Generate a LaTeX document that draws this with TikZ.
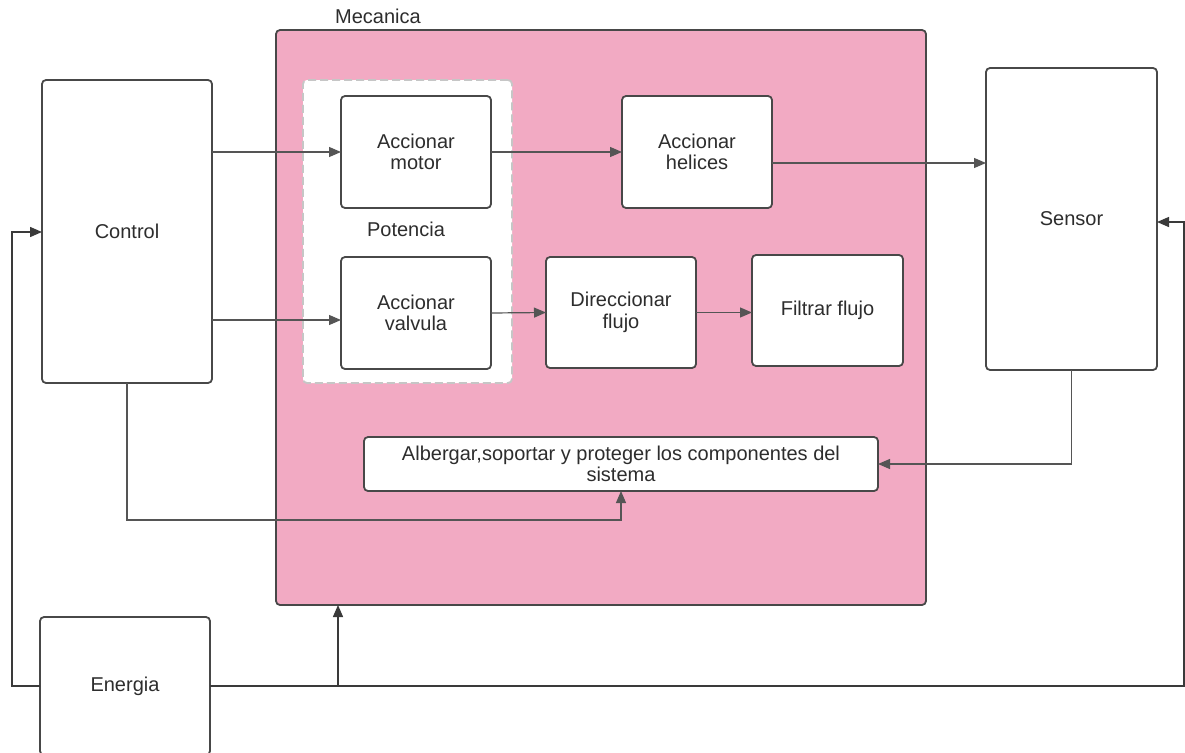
\documentclass[tikz,border=0pt]{standalone}
\usepackage{fontspec}
\setmainfont{Liberation Sans}
\usetikzlibrary{arrows.meta}
\definecolor{mecpink}{RGB}{242,170,195}
\definecolor{boxline}{RGB}{72,72,72}
\definecolor{wire}{RGB}{85,85,85}
\definecolor{txt}{RGB}{45,45,45}
\tikzset{
  fbox/.style={draw=boxline, line width=1.8pt, fill=white, rounded corners=4pt,
    inner sep=0pt, outer sep=0pt, align=center, text=txt,
    font=\fontsize{20}{21.5}\selectfont},
  wirearrow/.style={draw=wire, line width=1.2pt,
    -{Triangle[length=12pt,width=10pt]}},
  mainwire/.style={draw=boxline!80!black, line width=1.4pt},
  mainarrow/.style={mainwire, -{Triangle[length=12pt,width=10pt]}}
}
\begin{document}
\begin{tikzpicture}[x=1pt,y=-1pt]
\useasboundingbox (0,0) rectangle (1185,752);
\clip (0,0) rectangle (1185,752);
\fill[white] (0,0) rectangle (1185,752);

% Mechanical subsystem
\node[draw=boxline, line width=1.8pt, fill=mecpink, rounded corners=4pt,
  minimum width=650pt, minimum height=575pt, inner sep=0pt, outer sep=0pt]
  (Mec) at (601,317.5) {};
\node[text=txt, font=\fontsize{20}{21.5}\selectfont, anchor=base] (MecLab) at (378,24) {Mecanica};

% Power group (dashed)
\node[draw=gray!45, dashed, dash pattern=on 8pt off 4pt, line width=1.8pt,
  fill=white, rounded corners=4pt, minimum width=209pt, minimum height=303pt,
  inner sep=0pt, outer sep=0pt] (Pot) at (407.5,231.5) {};
\node[text=txt, font=\fontsize{20}{21.5}\selectfont, anchor=base] (PotLab) at (406,236) {Potencia};

% Functional blocks
\node[fbox, minimum width=150pt, minimum height=112pt] (AM) at (416,152) {Accionar\\motor};
\node[fbox, minimum width=150pt, minimum height=112pt] (AV) at (416,313) {Accionar\\valvula};
\node[fbox, minimum width=150pt, minimum height=112pt] (AH) at (697,152) {Accionar\\helices};
\node[fbox, minimum width=150pt, minimum height=111pt] (DF) at (621,312.5) {Direccionar\\flujo};
\node[fbox, minimum width=151pt, minimum height=111pt] (FF) at (827.5,310.5) {Filtrar flujo};
\node[fbox, minimum width=514pt, minimum height=54pt] (Alb) at (621,464)
  {Albergar,soportar y proteger los componentes del\\sistema};

% Outer subsystems
\node[fbox, minimum width=170pt, minimum height=303pt] (Ctl) at (127,231.5) {Control};
\node[fbox, minimum width=171pt, minimum height=302pt] (Sen) at (1071.5,219) {Sensor};
\node[fbox, minimum width=170pt, minimum height=138pt] (En) at (125,686) {Energia};

% Signal flow
\draw[wirearrow] (Ctl.east |- AM.west) -- (AM.west);
\coordinate (vin) at ([yshift=-7pt]AV.west);
\draw[wirearrow] (Ctl.east |- vin) -- (vin);
\draw[wirearrow] (AM.east) -- (AH.west);
\coordinate (hout) at ([yshift=-11pt]AH.east);
\draw[wirearrow] (hout) -- (Sen.west |- hout);
\draw[wirearrow] (AV.east) -- (DF.west);
\draw[wirearrow] (DF.east) -- (DF.east -| FF.west);
\draw[wirearrow] (Sen.south) |- (Alb.east);
\coordinate (cdown) at (127,520);
\draw[wirearrow] (Ctl.south) -- (cdown) -- (Alb.south |- cdown) -- (Alb.south);

% Energy distribution
\coordinate (ej) at (338,686);
\coordinate (rc) at (1184,686);
\coordinate (lc) at (12,686);
\draw[mainwire] (En.east) -- (ej);
\draw[mainarrow] (ej) -- (ej |- Mec.south);
\draw[mainarrow] (ej) -- (rc) |- ([yshift=-3pt]Sen.east);
\draw[mainarrow] (En.west) -- (lc) |- ([yshift=-0.5pt]Ctl.west);
\end{tikzpicture}
\end{document}
